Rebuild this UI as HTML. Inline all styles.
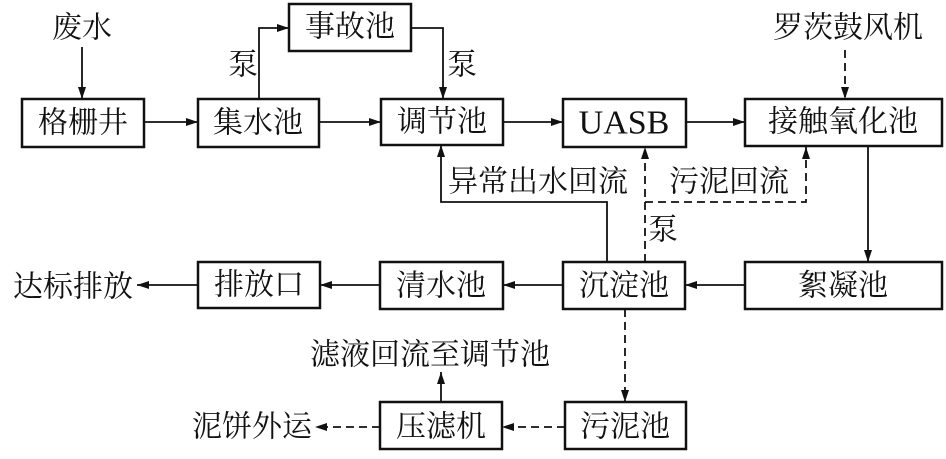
<!DOCTYPE html>
<html><head><meta charset="utf-8"><style>
body{margin:0;background:#fff;}
svg text{font-family:"Liberation Serif","Noto Serif CJK SC","Noto Sans CJK SC",serif;font-size:30px;fill:#111;dominant-baseline:central;text-anchor:middle;}
</style></head><body>
<svg width="946" height="454" viewBox="0 0 946 454" xmlns="http://www.w3.org/2000/svg">
<defs><marker id="a" markerWidth="12" markerHeight="8" refX="12" refY="4" orient="auto" markerUnits="userSpaceOnUse"><path d="M0,0 L12,4 L0,8 Z" fill="#111"/></marker></defs>
<g fill="none" stroke="#111" stroke-width="2.5">
<rect x="22" y="99" width="122" height="48"/>
<rect x="198" y="99" width="121" height="48"/>
<rect x="289" y="4" width="122" height="47"/>
<rect x="381" y="99" width="122" height="46"/>
<rect x="563" y="99" width="123" height="48"/>
<rect x="745" y="99" width="197" height="47"/>
<rect x="745" y="262" width="197" height="47"/>
<rect x="563" y="262" width="122" height="47"/>
<rect x="380" y="262" width="123" height="47"/>
<rect x="198" y="262" width="122" height="46"/>
<rect x="565" y="402" width="121" height="47"/>
<rect x="380" y="402" width="122" height="47"/>
</g>
<g fill="none" stroke="#111" stroke-width="1.8" marker-end="url(#a)">
<path d="M82 47 V99"/>
<path d="M144 122 H198"/>
<path d="M319 122 H381"/>
<path d="M503 122 H563"/>
<path d="M686 122 H745"/>
<path d="M259 99 V28 H289"/>
<path d="M411 28 H443 V99"/>
<path d="M868 146 V262"/>
<path d="M745 285 H685"/>
<path d="M563 285 H503"/>
<path d="M380 285 H320"/>
<path d="M198 285 H137"/>
<path d="M607 262 V202 H441 V145"/>
<path d="M441 402 V372"/>
</g>
<g fill="none" stroke="#111" stroke-width="1.8" stroke-dasharray="8,5" marker-end="url(#a)">
<path d="M845 50 V99"/>
<path d="M645 262 V147"/>
<path d="M645 202 H806 V147"/>
<path d="M625 309 V402"/>
<path d="M565 427 H502"/>
<path d="M380 427 H315"/>
</g>
<text x="82" y="28">废水</text>
<text x="848" y="28">罗茨鼓风机</text>
<text x="83" y="123">格栅井</text>
<text x="258" y="123">集水池</text>
<text x="350" y="27">事故池</text>
<text x="442" y="122">调节池</text>
<text x="624" y="123" style="font-size:34px">UASB</text>
<text x="843" y="122">接触氧化池</text>
<text x="243" y="65">泵</text>
<text x="462" y="65">泵</text>
<text x="538" y="182">异常出水回流</text>
<text x="729" y="182">污泥回流</text>
<text x="663" y="230">泵</text>
<text x="843" y="286">絮凝池</text>
<text x="624" y="286">沉淀池</text>
<text x="441" y="286">清水池</text>
<text x="259" y="285">排放口</text>
<text x="73" y="287">达标排放</text>
<text x="430" y="355">滤液回流至调节池</text>
<text x="441" y="427">压滤机</text>
<text x="625" y="427">污泥池</text>
<text x="252" y="427">泥饼外运</text>
</svg>
</body></html>
